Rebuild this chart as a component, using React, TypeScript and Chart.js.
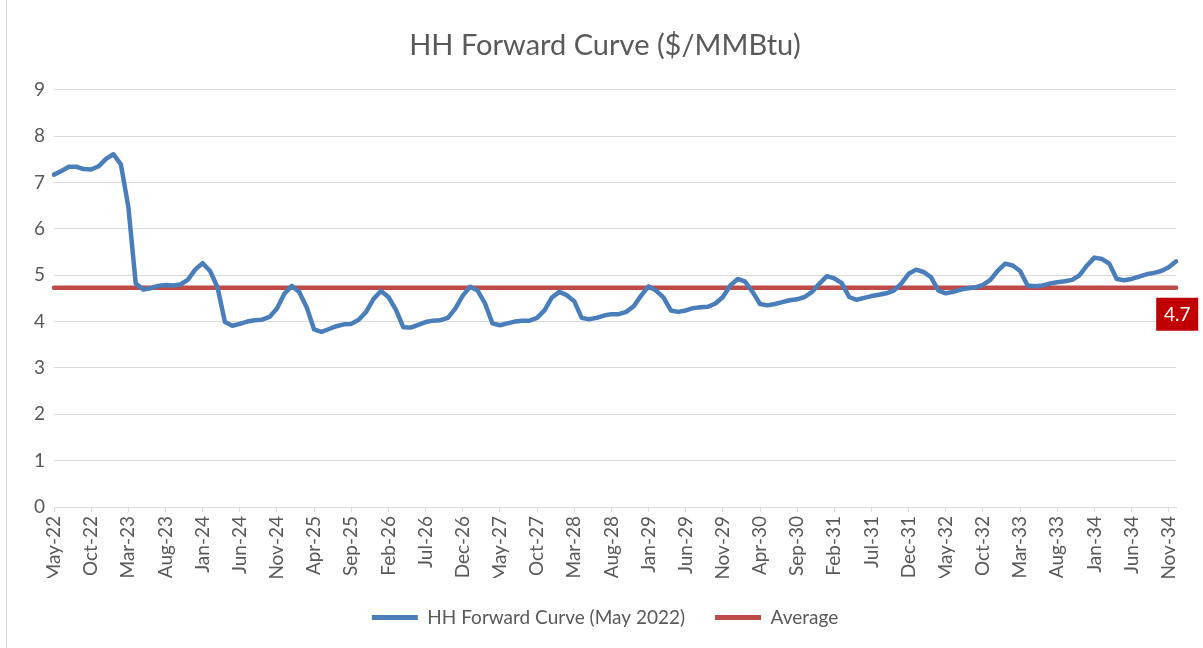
import React, { useEffect, useRef } from "react";
import { Chart, registerables } from "chart.js";

Chart.register(...registerables);

const MONTH_NAMES = ["Jan", "Feb", "Mar", "Apr", "May", "Jun", "Jul", "Aug", "Sep", "Oct", "Nov", "Dec"];

// HH forward curve, monthly, May-22 .. Dec-34 ($/MMBtu)
const HH_2022_2023 = [7.17, 7.25, 7.34, 7.34, 7.29, 7.28, 7.35, 7.51, 7.61, 7.39, 6.48, 4.82];
const HH_2023_2024 = [4.69, 4.72, 4.77, 4.79, 4.78, 4.8, 4.9, 5.12, 5.26, 5.09, 4.74, 3.99];
const HH_2024_2025 = [3.91, 3.95, 4.0, 4.03, 4.04, 4.1, 4.28, 4.6, 4.77, 4.64, 4.31, 3.83];
const HH_2025_2026 = [3.78, 3.84, 3.9, 3.94, 3.95, 4.04, 4.21, 4.49, 4.66, 4.53, 4.26, 3.88];
const HH_2026_2027 = [3.87, 3.93, 3.99, 4.02, 4.03, 4.08, 4.28, 4.56, 4.75, 4.67, 4.39, 3.96];
const HH_2027_2028 = [3.92, 3.96, 4.0, 4.02, 4.02, 4.08, 4.24, 4.52, 4.64, 4.57, 4.44, 4.08];
const HH_2028_2029 = [4.05, 4.08, 4.13, 4.16, 4.16, 4.21, 4.33, 4.56, 4.76, 4.67, 4.52, 4.24];
const HH_2029_2030 = [4.21, 4.24, 4.29, 4.31, 4.32, 4.39, 4.53, 4.78, 4.92, 4.86, 4.64, 4.38];
const HH_2030_2031 = [4.35, 4.38, 4.42, 4.46, 4.48, 4.53, 4.64, 4.82, 4.98, 4.93, 4.83, 4.53];
const HH_2031_2032 = [4.47, 4.51, 4.55, 4.58, 4.61, 4.67, 4.82, 5.03, 5.12, 5.07, 4.96, 4.67];
const HH_2032_2033 = [4.61, 4.64, 4.69, 4.72, 4.74, 4.79, 4.9, 5.1, 5.25, 5.21, 5.09, 4.78];
const HH_2033_2034 = [4.76, 4.78, 4.82, 4.85, 4.87, 4.9, 5.0, 5.21, 5.38, 5.35, 5.25, 4.92];
const HH_2034_END = [4.89, 4.92, 4.97, 5.02, 5.05, 5.09, 5.17, 5.3];

const HH_VALUES = [
  ...HH_2022_2023, ...HH_2023_2024, ...HH_2024_2025, ...HH_2025_2026, ...HH_2026_2027,
  ...HH_2027_2028, ...HH_2028_2029, ...HH_2029_2030, ...HH_2030_2031, ...HH_2031_2032,
  ...HH_2032_2033, ...HH_2033_2034, ...HH_2034_END,
];

const START_YEAR = 22;
const START_MONTH = 4; // May
const CATEGORIES = HH_VALUES.map((_, i) => {
  const m = (START_MONTH + i) % 12;
  const y = START_YEAR + Math.floor((START_MONTH + i) / 12);
  return `${MONTH_NAMES[m]}-${y}`;
});

const AVERAGE_VALUE = 4.73;
const AVERAGE_LABEL = "4.7";
const AVERAGE_SERIES = CATEGORIES.map(() => AVERAGE_VALUE);

const Y_MIN = 0;
const Y_MAX = 9;
const Y_STEP = 1;
const X_LABEL_EVERY = 5;

const TITLE = "HH Forward Curve ($/MMBtu)";
const SERIES_LABEL = "HH Forward Curve (May 2022)";
const AVERAGE_SERIES_LABEL = "Average";

const FONT = "Lato";
const TEXT = "#595959";
const GRID = "#D9D9D9";
const BLUE = "#4A7EBB";
const RED = "#BE4B48";

const avgLabelPlugin = {
  id: "avgLabel",
  beforeDraw(chart: any) {
    const { ctx, height } = chart;
    ctx.save();
    ctx.strokeStyle = GRID;
    ctx.lineWidth = 1;
    ctx.beginPath();
    ctx.moveTo(6.5, 0);
    ctx.lineTo(6.5, height);
    ctx.stroke();
    ctx.restore();
  },
  afterDatasetsDraw(chart: any) {
    const { ctx, scales } = chart;
    const px = scales.x.getPixelForValue(CATEGORIES.length - 1);
    const py = scales.y.getPixelForValue(AVERAGE_VALUE);
    ctx.save();
    ctx.fillStyle = "#C00000";
    ctx.fillRect(px - 20, py + 10, 42, 33);
    ctx.fillStyle = "#FFFFFF";
    ctx.font = `19px ${FONT}`;
    ctx.textAlign = "center";
    ctx.textBaseline = "middle";
    ctx.fillText(AVERAGE_LABEL, px + 1, py + 27);
    ctx.restore();
  },
};

export default function App() {
  const canvasRef = useRef<HTMLCanvasElement | null>(null);

  useEffect(() => {
    if (!canvasRef.current) return;
    const chart = new Chart(canvasRef.current, {
      type: "line",
      data: {
        labels: CATEGORIES,
        datasets: [
          {
            label: SERIES_LABEL,
            data: HH_VALUES,
            borderColor: BLUE,
            backgroundColor: BLUE,
            borderWidth: 4.5,
            pointRadius: 0,
            pointHoverRadius: 0,
            tension: 0,
            borderJoinStyle: "round",
            borderCapStyle: "round",
          },
          {
            label: AVERAGE_SERIES_LABEL,
            data: AVERAGE_SERIES,
            borderColor: RED,
            backgroundColor: RED,
            borderWidth: 4.5,
            pointRadius: 0,
            pointHoverRadius: 0,
            borderCapStyle: "round",
          },
        ],
      },
      options: {
        responsive: false,
        animation: false,
        devicePixelRatio: 1,
        layout: { padding: { left: 31, right: 24, top: 0, bottom: 11 } },
        plugins: {
          tooltip: { enabled: false },
          title: {
            display: true,
            text: TITLE,
            color: TEXT,
            font: { family: FONT, size: 29, weight: "normal", lineHeight: 1.2 },
            padding: { top: 28, bottom: 27 },
          },
          legend: {
            display: true,
            position: "bottom",
            labels: {
              color: TEXT,
              font: { family: FONT, size: 19 },
              boxWidth: 46,
              boxHeight: 5,
              padding: 30,
              generateLabels: (c: any) =>
                c.data.datasets.map((ds: any, i: number) => ({
                  text: ds.label,
                  fillStyle: ds.borderColor,
                  strokeStyle: ds.borderColor,
                  lineWidth: 0,
                  hidden: false,
                  datasetIndex: i,
                  fontColor: TEXT,
                })),
            },
          },
        },
        scales: {
          x: {
            type: "category",
            offset: false,
            afterFit: (s: any) => {
              s.height = 71;
            },
            grid: {
              drawOnChartArea: false,
              drawTicks: true,
              tickLength: 5,
              color: (ctx: any) => (ctx.index % X_LABEL_EVERY === 0 ? GRID : "rgba(0,0,0,0)"),
            },
            border: { display: true, color: GRID },
            ticks: {
              autoSkip: false,
              minRotation: 90,
              maxRotation: 90,
              padding: 4,
              color: TEXT,
              font: { family: FONT, size: 19 },
              callback: (_v: any, i: number) => (i % X_LABEL_EVERY === 0 ? CATEGORIES[i] : ""),
            },
          },
          y: {
            min: Y_MIN,
            max: Y_MAX,
            afterFit: (s: any) => {
              s.width = 23;
            },
            grid: { color: GRID, drawTicks: false, lineWidth: 1 },
            border: { display: false },
            ticks: {
              stepSize: Y_STEP,
              padding: 9,
              color: TEXT,
              font: { family: FONT, size: 19 },
            },
          },
        },
      },
      plugins: [avgLabelPlugin],
    });
    return () => chart.destroy();
  }, []);

  return (
    <div style={{ position: "absolute", left: 0, top: 0, width: 1203, height: 648, background: "#fff" }}>
      <canvas ref={canvasRef} width={1203} height={648} style={{ display: "block" }} />
    </div>
  );
}
